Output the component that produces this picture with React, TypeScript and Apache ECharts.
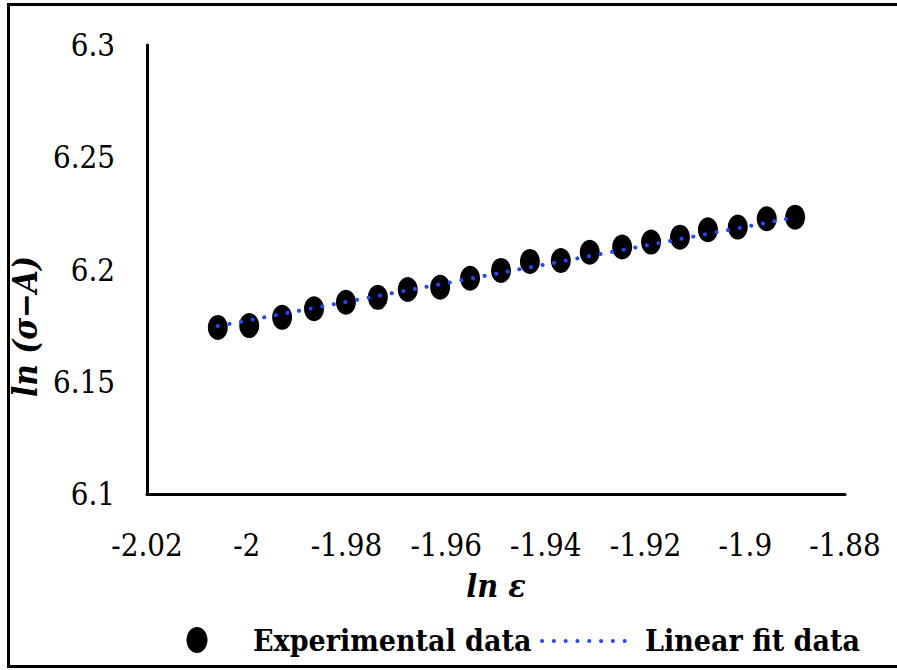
import React, { useEffect, useRef } from "react";
import * as echarts from "echarts";

// ln ε (x) and ln(σ − A) (y) for the experimental points
const lnStrain = [
  -2.0058, -1.9995, -1.9929, -1.9865, -1.9801, -1.9737, -1.9677, -1.9612,
  -1.9552, -1.949, -1.9432, -1.937, -1.9312, -1.9247, -1.9189, -1.9131,
  -1.9075, -1.9015, -1.8957, -1.89,
];
const lnStress = [
  6.1742, 6.175, 6.1787, 6.1825, 6.1854, 6.1876, 6.1911, 6.1921, 6.1961,
  6.1996, 6.2036, 6.204, 6.2077, 6.21, 6.2122, 6.2144, 6.2177, 6.2189, 6.2226,
  6.2233,
];

// End points of the linear fit
const fitStrain = [-2.0058, -1.89];
const fitStress = [6.1748, 6.2232];

const seriesNames = ["Experimental data", "Linear fit data"];

const FONT = "DejaVu Serif Condensed";
const FIT_BLUE = "#1f48ff";

export default function App() {
  const ref = useRef<HTMLDivElement>(null);

  useEffect(() => {
    if (!ref.current) return;
    const chart = echarts.init(ref.current, undefined, { renderer: "svg" });

    chart.setOption({
      animation: false,
      backgroundColor: "#ffffff",
      textStyle: { fontFamily: FONT },
      grid: { left: 147, right: 52, top: 45, bottom: 176 },
      xAxis: {
        type: "value",
        min: -2.02,
        max: -1.88,
        interval: 0.02,
        name: "ln ε",
        nameLocation: "middle",
        nameGap: 76,
        nameTextStyle: {
          fontFamily: FONT,
          fontSize: 32,
          fontStyle: "italic",
          fontWeight: "bold",
          color: "#000",
        },
        axisLine: { lineStyle: { color: "#000", width: 3 } },
        axisTick: { show: false },
        splitLine: { show: false },
        axisLabel: {
          fontFamily: FONT,
          fontSize: 31,
          color: "#000",
          margin: 35,
        },
      },
      yAxis: {
        type: "value",
        min: 6.1,
        max: 6.3,
        interval: 0.05,
        name: "ln (σ−A)",
        nameLocation: "middle",
        nameRotate: 90,
        nameGap: 92,
        nameTextStyle: {
          fontFamily: FONT,
          fontSize: 33,
          fontStyle: "italic",
          fontWeight: "bold",
          color: "#000",
          padding: [0, 114, 0, 0],
        },
        axisLine: { show: true, lineStyle: { color: "#000", width: 3 } },
        axisTick: { show: false },
        splitLine: { show: false },
        axisLabel: {
          fontFamily: FONT,
          fontSize: 31,
          color: "#000",
          margin: 32,
        },
      },
      graphic: [
        {
          type: "rect",
          shape: { x: 8.5, y: 4.5, width: 900, height: 662 },
          style: { fill: "none", stroke: "#000", lineWidth: 3 },
          silent: true,
        },
        {
          type: "ellipse",
          shape: { cx: 197, cy: 640, rx: 10.5, ry: 13 },
          style: { fill: "#000" },
        },
        {
          type: "text",
          x: 253,
          y: 640,
          style: {
            text: seriesNames[0],
            fontFamily: FONT,
            fontSize: 30,
            fontWeight: "bold",
            fill: "#000",
            verticalAlign: "middle",
          },
        },
        {
          type: "line",
          shape: { x1: 542, y1: 641, x2: 625, y2: 641 },
          style: {
            stroke: FIT_BLUE,
            lineWidth: 4,
            lineDash: [0.1, 11.7],
            lineCap: "round",
          },
        },
        {
          type: "text",
          x: 645,
          y: 640,
          style: {
            text: seriesNames[1],
            fontFamily: FONT,
            fontSize: 30,
            fontWeight: "bold",
            fill: "#000",
            verticalAlign: "middle",
          },
        },
      ],
      series: [
        {
          name: seriesNames[0],
          type: "scatter",
          data: lnStrain.map((x, i) => [x, lnStress[i]]),
          symbol: "circle",
          symbolSize: [20, 25],
          itemStyle: { color: "#000", opacity: 1 },
          z: 2,
        },
        {
          name: seriesNames[1],
          type: "line",
          data: fitStrain.map((x, i) => [x, fitStress[i]]),
          showSymbol: false,
          symbol: "none",
          lineStyle: {
            color: FIT_BLUE,
            width: 4,
            type: [0.1, 11.7],
            cap: "round",
          },
          z: 3,
        },
      ],
    });

    return () => chart.dispose();
  }, []);

  return (
    <div
      ref={ref}
      style={{ position: "fixed", left: 0, top: 0, width: 897, height: 670 }}
    />
  );
}
